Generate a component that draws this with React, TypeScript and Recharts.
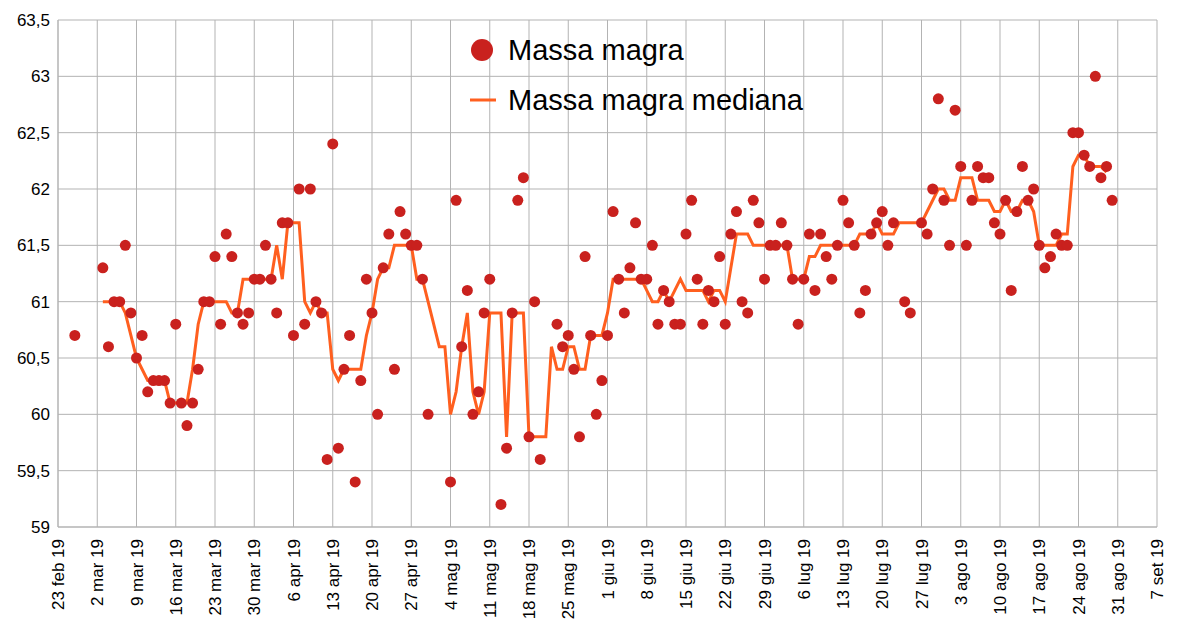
import React from 'react';
import { ComposedChart, Scatter, Line, XAxis, YAxis, CartesianGrid } from 'recharts';

const startDate = new Date(2019, 1, 23);
const monthNames = ['gen', 'feb', 'mar', 'apr', 'mag', 'giu', 'lug', 'ago', 'set', 'ott', 'nov', 'dic'];

// [day offset from 23 feb 2019, value]
const massPoints: [number, number][] = [
  [3, 60.7], [8, 61.3], [9, 60.6], [10, 61.0], [11, 61.0], [12, 61.5], [13, 60.9], [14, 60.5], [15, 60.7], [16, 60.2],
  [17, 60.3], [18, 60.3], [19, 60.3], [20, 60.1], [21, 60.8], [22, 60.1], [23, 59.9], [24, 60.1], [25, 60.4], [26, 61.0],
  [27, 61.0], [28, 61.4], [29, 60.8], [30, 61.6], [31, 61.4], [32, 60.9], [33, 60.8], [34, 60.9], [35, 61.2], [36, 61.2],
  [37, 61.5], [38, 61.2], [39, 60.9], [40, 61.7], [41, 61.7], [42, 60.7], [43, 62.0], [44, 60.8], [45, 62.0], [46, 61.0],
  [47, 60.9], [48, 59.6], [49, 62.4], [50, 59.7], [51, 60.4], [52, 60.7], [53, 59.4], [54, 60.3], [55, 61.2], [56, 60.9],
  [57, 60.0], [58, 61.3], [59, 61.6], [60, 60.4], [61, 61.8], [62, 61.6], [63, 61.5], [64, 61.5], [65, 61.2], [66, 60.0],
  [70, 59.4], [71, 61.9], [72, 60.6], [73, 61.1], [74, 60.0], [75, 60.2], [76, 60.9], [77, 61.2], [79, 59.2], [80, 59.7],
  [81, 60.9], [82, 61.9], [83, 62.1], [84, 59.8], [85, 61.0], [86, 59.6], [89, 60.8], [90, 60.6], [91, 60.7], [92, 60.4],
  [93, 59.8], [94, 61.4], [95, 60.7], [96, 60.0], [97, 60.3], [98, 60.7], [99, 61.8], [100, 61.2], [101, 60.9], [102, 61.3],
  [103, 61.7], [104, 61.2], [105, 61.2], [106, 61.5], [107, 60.8], [108, 61.1], [109, 61.0], [110, 60.8], [111, 60.8], [112, 61.6],
  [113, 61.9], [114, 61.2], [115, 60.8], [116, 61.1], [117, 61.0], [118, 61.4], [119, 60.8], [120, 61.6], [121, 61.8], [122, 61.0],
  [123, 60.9], [124, 61.9], [125, 61.7], [126, 61.2], [127, 61.5], [128, 61.5], [129, 61.7], [130, 61.5], [131, 61.2], [132, 60.8],
  [133, 61.2], [134, 61.6], [135, 61.1], [136, 61.6], [137, 61.4], [138, 61.2], [139, 61.5], [140, 61.9], [141, 61.7], [142, 61.5],
  [143, 60.9], [144, 61.1], [145, 61.6], [146, 61.7], [147, 61.8], [148, 61.5], [149, 61.7], [151, 61.0], [152, 60.9], [154, 61.7],
  [155, 61.6], [156, 62.0], [157, 62.8], [158, 61.9], [159, 61.5], [160, 62.7], [161, 62.2], [162, 61.5], [163, 61.9], [164, 62.2],
  [165, 62.1], [166, 62.1], [167, 61.7], [168, 61.6], [169, 61.9], [170, 61.1], [171, 61.8], [172, 62.2], [173, 61.9], [174, 62.0],
  [175, 61.5], [176, 61.3], [177, 61.4], [178, 61.6], [179, 61.5], [180, 61.5], [181, 62.5], [182, 62.5], [183, 62.3], [184, 62.2],
  [185, 63.0], [186, 62.1], [187, 62.2], [188, 61.9],
];

// median values, one per day starting at day 8
const medianStart = 8;
const medianValues = [
  61.0, 61.0, 61.0, 61.0, 60.9, 60.7, 60.5, 60.4, 60.3, 60.3, 60.3, 60.3, 60.1, 60.1, 60.1, 60.1, 60.4, 60.8, 61.0, 61.0,
  61.0, 61.0, 61.0, 60.9, 60.9, 61.2, 61.2, 61.2, 61.2, 61.2, 61.2, 61.5, 61.2, 61.7, 61.7, 61.7, 61.0, 60.9, 61.0, 60.9,
  60.9, 60.4, 60.3, 60.4, 60.4, 60.4, 60.4, 60.7, 60.9, 61.2, 61.3, 61.3, 61.5, 61.5, 61.5, 61.5, 61.2, 61.2, 61.0, 60.8,
  60.6, 60.6, 60.0, 60.2, 60.6, 60.9, 60.2, 60.0, 60.2, 60.9, 60.9, 60.9, 59.8, 60.9, 60.9, 60.9, 59.8, 59.8, 59.8, 59.8,
  60.6, 60.4, 60.4, 60.6, 60.6, 60.4, 60.4, 60.7, 60.7, 60.7, 60.9, 61.2, 61.2, 61.2, 61.2, 61.2, 61.2, 61.1, 61.0, 61.0,
  61.1, 61.0, 61.1, 61.2, 61.1, 61.1, 61.1, 61.1, 61.0, 61.1, 61.1, 61.0, 61.3, 61.6, 61.6, 61.6, 61.5, 61.5, 61.5, 61.5,
  61.5, 61.5, 61.5, 61.2, 61.2, 61.2, 61.4, 61.4, 61.5, 61.5, 61.5, 61.5, 61.5, 61.5, 61.5, 61.6, 61.6, 61.6, 61.7, 61.6,
  61.6, 61.6, 61.7, 61.7, 61.7, 61.7, 61.7, 61.8, 61.9, 62.0, 62.0, 61.9, 61.9, 62.1, 62.1, 62.1, 61.9, 61.9, 61.9, 61.8,
  61.8, 61.9, 61.8, 61.8, 61.9, 61.9, 61.8, 61.5, 61.5, 61.5, 61.5, 61.6, 61.6, 62.2, 62.3, 62.3, 62.2, 62.2, 62.2, 62.15,
];

const xTicks = Array.from({ length: 29 }, (_, i) => i * 7);
const yTicks = [59, 59.5, 60, 60.5, 61, 61.5, 62, 62.5, 63, 63.5];

const rows = (() => {
  const map = new Map<number, { day: number; mass?: number; median?: number }>();
  massPoints.forEach(([day, v]) => map.set(day, { day, mass: v }));
  medianValues.forEach((v, i) => {
    const day = medianStart + i;
    map.set(day, { ...(map.get(day) || { day }), median: v });
  });
  return Array.from(map.values()).sort((a, b) => a.day - b.day);
})();

const fmtDate = (d: number) => {
  const dt = new Date(startDate.getTime() + d * 86400000);
  return `${dt.getDate()} ${monthNames[dt.getMonth()]} 19`;
};
const fmtY = (v: number) => String(v).replace('.', ',');

const XTick = (props: any) => {
  const { x, y, payload } = props;
  return (
    <text x={x + 6} y={y + 4} transform={`rotate(-90 ${x + 6} ${y + 4})`} textAnchor="end" fontSize={17} fill="#000" fontFamily="Liberation Sans, Arial">
      {fmtDate(payload.value)}
    </text>
  );
};

const LegendBox = () => (
  <div style={{ position: 'absolute', left: 470, top: 25, fontFamily: 'Liberation Sans, Arial', fontSize: 29, color: '#000' }}>
    <div style={{ display: 'flex', alignItems: 'center', height: 50 }}>
      <svg width={32} height={24}><circle cx={12} cy={12} r={11} fill="#c9211e" /></svg>
      <span style={{ marginLeft: 6 }}>Massa magra</span>
    </div>
    <div style={{ display: 'flex', alignItems: 'center', height: 50 }}>
      <svg width={32} height={24}><line x1={0} y1={12} x2={26} y2={12} stroke="#ff5f1f" strokeWidth={3} /></svg>
      <span style={{ marginLeft: 6 }}>Massa magra mediana</span>
    </div>
  </div>
);

export default function App() {
  return (
    <div style={{ position: 'absolute', left: 0, top: 0, width: 1183, height: 644, background: '#fff' }}>
      <ComposedChart width={1183} height={644} data={rows} margin={{ top: 20, right: 26, bottom: 0, left: 8 }}>
        <CartesianGrid stroke="#b3b3b3" />
        <XAxis dataKey="day" type="number" domain={[0, 196]} ticks={xTicks} tick={<XTick />} height={117} interval={0} stroke="#b3b3b3" tickLine={false} />
        <YAxis type="number" domain={[59, 63.5]} ticks={yTicks} tickFormatter={fmtY} width={50} tick={{ fontSize: 17, fill: '#000', fontFamily: 'Liberation Sans, Arial' }} stroke="#b3b3b3" tickLine={false} />
        <Line dataKey="median" stroke="#ff5f1f" strokeWidth={3} dot={false} connectNulls isAnimationActive={false} />
        <Scatter dataKey="mass" fill="#c9211e" shape={(p: any) => (p.payload.mass == null ? <g /> : <circle cx={p.cx} cy={p.cy} r={5.5} fill="#c9211e" />)} isAnimationActive={false} />
      </ComposedChart>
      <LegendBox />
    </div>
  );
}
